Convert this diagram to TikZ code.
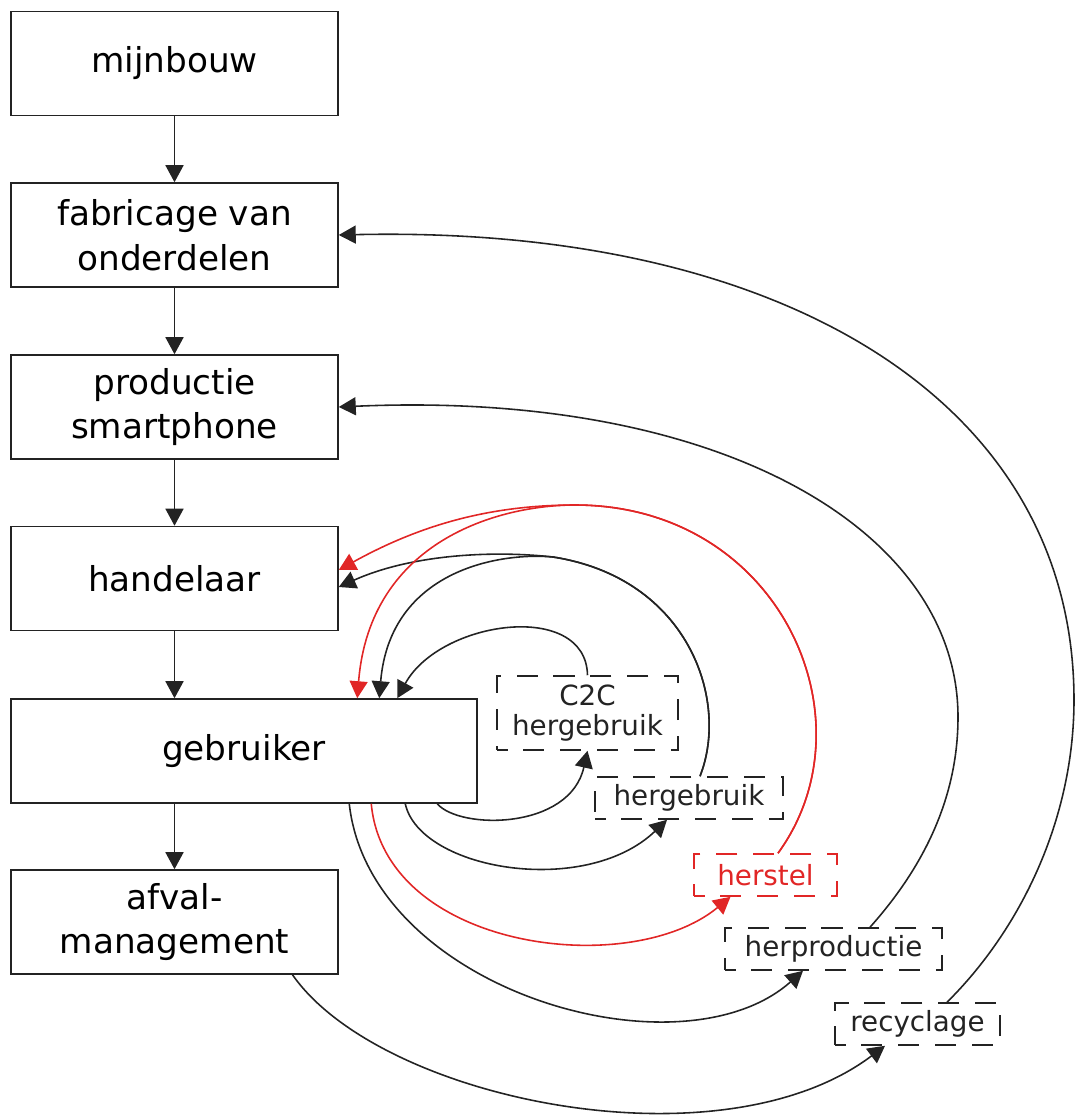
\documentclass[tikz,border=0pt]{standalone}
\usepackage{fontspec}
\setmainfont{DejaVu Sans}
\usepackage{tikz}
\usetikzlibrary{arrows.meta, positioning, calc}
\definecolor{herstelred}{RGB}{225,38,38}
\definecolor{linegray}{RGB}{35,35,35}

\begin{document}
\begin{tikzpicture}[x=0.02cm, y=-0.02cm,
    >={Triangle[length=0.34cm, width=0.36cm]},
    stage/.style={rectangle, draw=linegray, line width=0.9pt,
                  minimum width=6.54cm, minimum height=2.08cm, align=center,
                  font=\fontsize{19.5}{25.5}\selectfont},
    loopbox/.style={rectangle, draw=#1, text=#1, line width=0.9pt,
                    dash pattern=on 12pt off 9pt, dash phase=6pt,
                    minimum height=0.84cm, align=center,
                    font=\fontsize{15.8}{17}\selectfont},
    loopbox/.default=linegray,
    flow/.style={->, draw=#1, line width=0.9pt},
    flow/.default=linegray
]
    \useasboundingbox (0,0) rectangle (1075,1120);

    % Chain
    \node[stage] (mijn) at (174.5, 63.5) {mijnbouw};
    \node[stage] (fabr) at (174.5, 235) {fabricage van\\onderdelen};
    \node[stage] (prod) at (174.5, 407) {productie\\smartphone};
    \node[stage] (hand) at (174.5, 578.5) {handelaar};
    \node[stage, minimum width=9.32cm] (gebr) at (244, 751) {gebruiker};
    \node[stage] (afval) at (174.5, 922) {afval-\\management};

    \foreach \a/\b in {mijn/fabr, fabr/prod, prod/hand, hand/gebr, gebr/afval}
        \draw[flow] (\a.south -| mijn.south) -- (\b.north -| mijn.south);

    % Loops
    \node[loopbox, minimum width=3.62cm, minimum height=1.48cm] (c2c) at (587.5, 713) {C2C\\hergebruik};
    \node[loopbox, minimum width=3.76cm] (herg) at (689, 798) {hergebruik};
    \node[loopbox=herstelred, minimum width=2.86cm] (herst) at (765.5, 875) {herstel};
    \node[loopbox, minimum width=4.34cm] (herpr) at (833.5, 949) {herproductie};
    \node[loopbox, minimum width=3.3cm] (recyc) at (917.5, 1024) {recyclage};

    % C2C hergebruik
    \draw[flow] ($(gebr.south west)+(427,0)$) .. controls (460,830) and (570,830) .. (c2c.south);
    \draw[flow] (c2c.north) .. controls (586,600) and (440,620) .. ($(gebr.north west)+(387,0)$);

    % hergebruik
    \coordinate (hsplit) at (553,557);
    \draw[flow] ($(gebr.south west)+(395,0)$) .. controls (420,870) and (585,898) .. ($(herg.south)+(-22,0)$);
    \draw[flow] ($(herg.north)+(11,0)$) .. controls (730,700) and (688,578) .. (hsplit)
        .. controls (490,550) and (410,555) .. ($(hand.east)+(0,8.5)$);
    \draw[flow] ($(herg.north)+(11,0)$) .. controls (730,700) and (688,578) .. (hsplit)
        .. controls (500,552) and (390,570) .. ($(gebr.north west)+(369,0)$);

    % herstel
    \coordinate (rsplit) at (575,505);
    \draw[flow=herstelred] ($(gebr.south west)+(361,0)$) .. controls (385,950) and (630,980) .. ($(herst.south)+(-35,0)$);
    \draw[flow=herstelred] ($(herst.north)+(12.5,0)$) .. controls (875,720) and (780,505) .. (rsplit)
        .. controls (490,505) and (420,525) .. ($(hand.east)+(0,-8.5)$);
    \draw[flow=herstelred] ($(herst.north)+(12.5,0)$) .. controls (875,720) and (780,505) .. (rsplit)
        .. controls (500,505) and (370,540) .. ($(gebr.north west)+(347,0)$);

    % herproductie
    \coordinate (pturn) at (958,717);
    \draw[flow] ($(gebr.south west)+(339,0)$) .. controls (370,990) and (680,1080) .. ($(herpr.south)+(-30.5,0)$);
    \draw[flow] ($(herpr.north)+(36.5,0)$) .. controls (930,860) and (958,790) .. (pturn)
        .. controls (958,530) and (720,390) .. (prod.east);

    % recyclage
    \coordinate (fturn) at (1074,700);
    \draw[flow] ($(afval.south)+(118,0)$) .. controls (380,1100) and (720,1170) .. ($(recyc.south)+(-32.5,0)$);
    \draw[flow] ($(recyc.north)+(29.5,0)$) .. controls (1020,930) and (1074,820) .. (fturn)
        .. controls (1074,400) and (780,225) .. (fabr.east);
\end{tikzpicture}
\end{document}
